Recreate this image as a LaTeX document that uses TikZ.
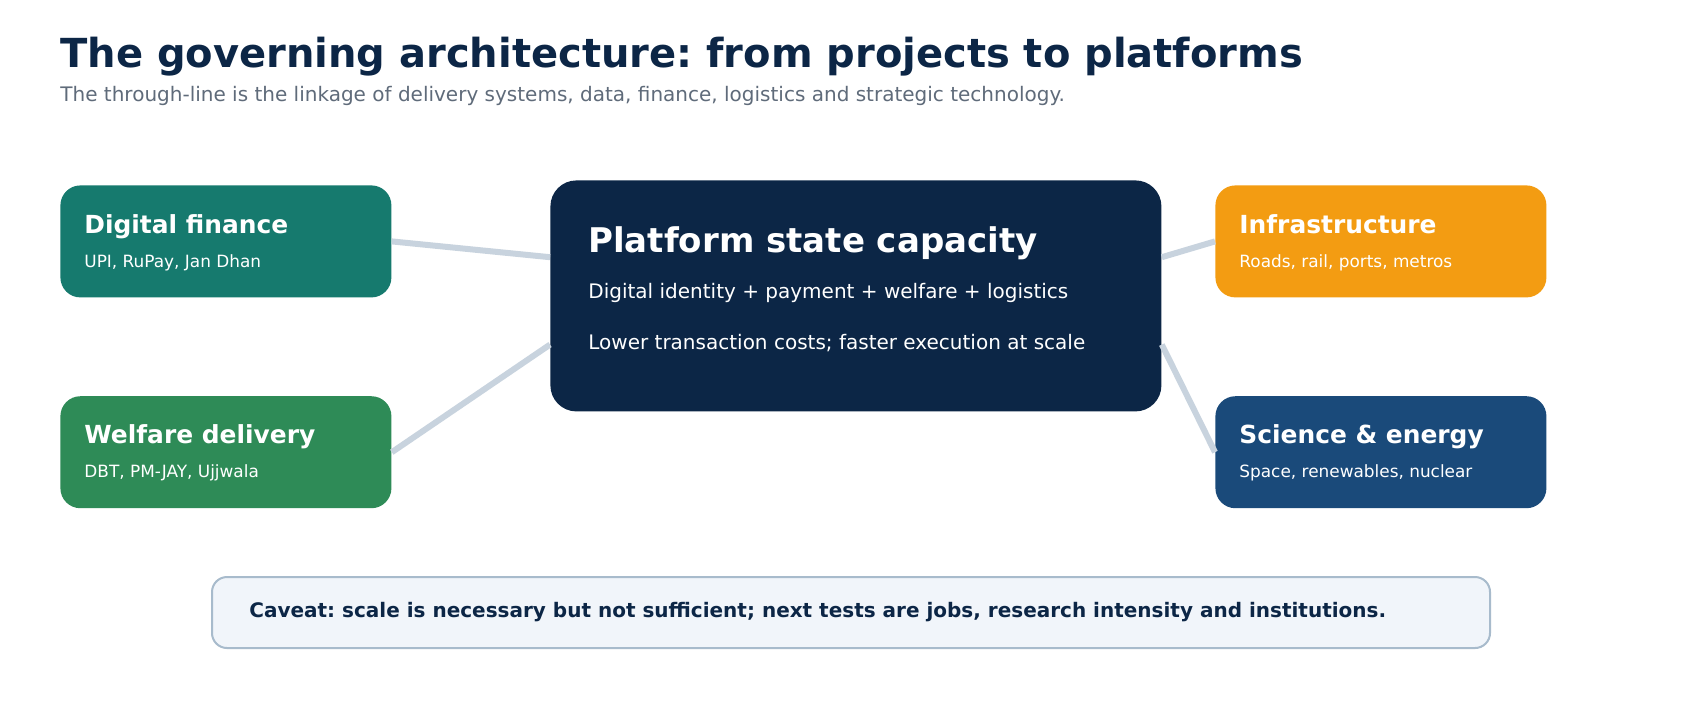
\documentclass[tikz,border=0pt]{standalone}
\usepackage{fontspec}
\setmainfont{DejaVu Sans}
\usetikzlibrary{positioning,calc}
\frenchspacing

\definecolor{navy}{HTML}{0C2646}
\definecolor{subgray}{HTML}{5F6B7A}
\definecolor{tealbox}{HTML}{167A6E}
\definecolor{greenbox}{HTML}{2E8B57}
\definecolor{orangebox}{HTML}{F39C12}
\definecolor{bluebox}{HTML}{1A4A7A}
\definecolor{linkgray}{HTML}{C8D3DE}
\definecolor{notefill}{HTML}{F1F5FA}
\definecolor{noteline}{HTML}{A8BBCC}

\begin{document}
\begin{tikzpicture}[
		x=0.5pt,y=-0.5pt,
		card/.style={rounded corners=10pt,minimum width=165.5pt,minimum height=56pt,inner sep=0pt,anchor=north west},
		hub/.style={rounded corners=13pt,minimum width=305.5pt,minimum height=115.5pt,inner sep=0pt,anchor=north west,fill=navy},
		cardhead/.style={inner sep=0pt,anchor=base west,text=white,font=\fontsize{12.45}{15}\selectfont\bfseries},
		cardsub/.style={inner sep=0pt,anchor=base west,text=white,font=\fontsize{8.45}{10}\selectfont},
		hubline/.style={inner sep=0pt,anchor=base west,text=white,font=\fontsize{10}{12}\selectfont},
		link/.style={draw=linkgray,line width=3pt}
		]

		% page
		\fill[white] (0,0) rectangle (1700,720);

		% heading
		\node[inner sep=0pt,anchor=base west,text=navy,font=\fontsize{20}{24}\selectfont\bfseries] (title) at (60,67) {The governing architecture: from projects to platforms};
		\node[inner sep=0pt,anchor=base west,text=subgray,font=\fontsize{10}{12}\selectfont] (subtitle) at (60,101.5) {The through-line is the linkage of delivery systems, data, finance, logistics and strategic technology.};

		% boxes
		\node[hub] (core) at (550,180) {};
		\node[card,fill=tealbox] (dfin) at (60,185) {};
		\node[card,fill=greenbox,below=49pt of dfin] (wdel) {};
		\node[card,fill=orangebox] (infra) at (1215,185) {};
		\node[card,fill=bluebox,below=49pt of infra] (scien) {};

		% texts
		\node[inner sep=0pt,anchor=base west,text=white,font=\fontsize{17}{20}\selectfont\bfseries] (core-h) at ($(core.north west)+(38,72)$) {Platform state capacity};
		\node[hubline] (core-a) at ($(core.north west)+(38,118)$) {Digital identity + payment + welfare + logistics};
		\node[hubline] (core-b) at ($(core.north west)+(38,169)$) {Lower transaction costs; faster execution at scale};

		\node[cardhead] (dfin-h) at ($(dfin.north west)+(24,48)$) {Digital finance};
		\node[cardsub] (dfin-s) at ($(dfin.north west)+(24,82)$) {UPI, RuPay, Jan Dhan};
		\node[cardhead] (wdel-h) at ($(wdel.north west)+(24,48)$) {Welfare delivery};
		\node[cardsub] (wdel-s) at ($(wdel.north west)+(24,82)$) {DBT, PM-JAY, Ujjwala};
		\node[cardhead] (infra-h) at ($(infra.north west)+(24,48)$) {Infrastructure};
		\node[cardsub] (infra-s) at ($(infra.north west)+(24,82)$) {Roads, rail, ports, metros};
		\node[cardhead] (scien-h) at ($(scien.north west)+(24,48)$) {Science \& energy};
		\node[cardsub] (scien-s) at ($(scien.north west)+(24,82)$) {Space, renewables, nuclear};

		% links
		\coordinate (core-wa) at ($(core.north west)!0.333!(core.south west)$);
		\coordinate (core-wb) at ($(core.north west)!0.71!(core.south west)$);
		\coordinate (core-ea) at ($(core.north east)!0.333!(core.south east)$);
		\coordinate (core-eb) at ($(core.north east)!0.71!(core.south east)$);
		\draw[link] (dfin.east) -- (core-wa);
		\draw[link] (wdel.east) -- (core-wb);
		\draw[link] (core-ea) -- (infra.west);
		\draw[link] (core-eb) -- (scien.west);

		% caveat
		\node[draw=noteline,line width=1pt,fill=notefill,rounded corners=7.5pt,minimum width=639pt,minimum height=35.5pt,inner sep=0pt,anchor=north west] (note) at (211,576) {};
		\node[inner sep=0pt,anchor=base west,text=navy,font=\fontsize{10}{12}\selectfont\bfseries] (note-t) at ($(note.north west)+(38,41)$) {Caveat: scale is necessary but not sufficient; next tests are jobs, research intensity and institutions.};

	\end{tikzpicture}
\end{document}
